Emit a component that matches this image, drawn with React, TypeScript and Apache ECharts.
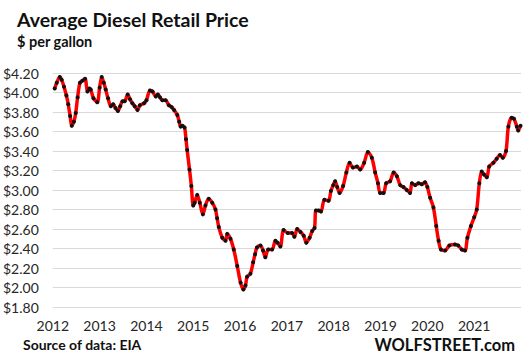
import React, { useEffect, useRef } from "react";
import * as echarts from "echarts";

// decimal-year positions of the readings
const dates: number[] = [
  2012.04, 2012.085, 2012.15, 2012.19, 2012.24, 2012.29, 2012.33, 2012.37, 2012.405, 2012.45,
  2012.49, 2012.53, 2012.58, 2012.63, 2012.69, 2012.74, 2012.78, 2012.81, 2012.87, 2012.95,
  2013.0, 2013.045, 2013.09, 2013.13, 2013.18, 2013.24, 2013.29, 2013.34, 2013.39, 2013.44,
  2013.49, 2013.535, 2013.6, 2013.65, 2013.7, 2013.75, 2013.81, 2013.86, 2013.95, 2014.0,
  2014.075, 2014.13, 2014.2, 2014.245, 2014.29, 2014.34, 2014.41, 2014.48, 2014.54, 2014.59,
  2014.66, 2014.7, 2014.73, 2014.765, 2014.815, 2014.845, 2014.87, 2014.92, 2014.96, 2015.0,
  2015.03, 2015.085, 2015.14, 2015.205, 2015.26, 2015.33, 2015.405, 2015.475, 2015.51, 2015.545,
  2015.62, 2015.69, 2015.725, 2015.795, 2015.865, 2015.94, 2016.01, 2016.07, 2016.115, 2016.15,
  2016.22, 2016.28, 2016.32, 2016.36, 2016.435, 2016.49, 2016.54, 2016.6, 2016.685, 2016.755,
  2016.8, 2016.86, 2016.93, 2017.02, 2017.11, 2017.16, 2017.22, 2017.29, 2017.36, 2017.415,
  2017.485, 2017.54, 2017.59, 2017.62, 2017.68, 2017.73, 2017.8, 2017.89, 2017.94, 2017.99,
  2018.03, 2018.075, 2018.125, 2018.2, 2018.27, 2018.34, 2018.41, 2018.495, 2018.565, 2018.65,
  2018.73, 2018.815, 2018.885, 2018.945, 2018.99, 2019.065, 2019.12, 2019.205, 2019.28, 2019.35,
  2019.42, 2019.49, 2019.56, 2019.63, 2019.67, 2019.74, 2019.81, 2019.88, 2019.95, 2020.0,
  2020.06, 2020.13, 2020.19, 2020.24, 2020.29, 2020.38, 2020.47, 2020.59, 2020.66, 2020.735,
  2020.805, 2020.855, 2020.93, 2021.0, 2021.055, 2021.11, 2021.16, 2021.21, 2021.27, 2021.32,
  2021.41, 2021.48, 2021.55, 2021.61, 2021.68, 2021.73, 2021.8, 2021.85, 2021.91, 2021.94,
  2021.99,
];

// $ per gallon
const prices: number[] = [
  4.04, 4.1, 4.16, 4.13, 4.06, 3.97, 3.88, 3.76, 3.66, 3.7,
  3.79, 3.95, 4.1, 4.12, 4.14, 4.01, 4.04, 4.03, 3.94, 3.9,
  4.05, 4.16, 4.1, 4.03, 3.94, 3.86, 3.88, 3.84, 3.81, 3.86,
  3.91, 3.91, 3.98, 3.93, 3.89, 3.86, 3.82, 3.87, 3.89, 3.92,
  4.02, 4.01, 3.96, 3.98, 3.95, 3.92, 3.92, 3.87, 3.85, 3.82,
  3.77, 3.7, 3.65, 3.66, 3.64, 3.52, 3.41, 3.21, 3.04, 2.84,
  2.87, 2.95, 2.87, 2.75, 2.84, 2.91, 2.87, 2.8, 2.71, 2.62,
  2.51, 2.48, 2.55, 2.5, 2.39, 2.22, 2.05, 1.98, 2.02, 2.11,
  2.14, 2.26, 2.34, 2.41, 2.43, 2.38, 2.31, 2.39, 2.39, 2.48,
  2.46, 2.42, 2.59, 2.56, 2.56, 2.52, 2.6, 2.57, 2.53, 2.46,
  2.51, 2.58, 2.61, 2.79, 2.79, 2.78, 2.9, 2.89, 2.99, 3.05,
  3.09, 3.03, 2.97, 3.04, 3.18, 3.28, 3.23, 3.24, 3.21, 3.28,
  3.39, 3.33, 3.18, 3.07, 2.97, 2.97, 3.07, 3.09, 3.18, 3.14,
  3.05, 3.03, 3.0, 2.97, 3.07, 3.05, 3.07, 3.06, 3.08, 3.03,
  2.92, 2.82, 2.63, 2.48, 2.39, 2.38, 2.43, 2.44, 2.43, 2.39,
  2.38, 2.51, 2.63, 2.72, 2.8, 3.07, 3.19, 3.16, 3.13, 3.24,
  3.28, 3.32, 3.36, 3.33, 3.4, 3.65, 3.74, 3.73, 3.65, 3.61,
  3.66,
];

const yearTicks: number[] = [2012, 2013, 2014, 2015, 2016, 2017, 2018, 2019, 2020, 2021];

const TITLE = "Average Diesel Retail Price";
const SUBTITLE = "$ per gallon";
const SOURCE = "Source of data: EIA";
const BRAND = "WOLFSTREET.com";

const FONT = "Lato, 'Noto Sans', sans-serif";

export default function App() {
  const ref = useRef<HTMLDivElement>(null);
  useEffect(() => {
    if (!ref.current) return;
    const chart = echarts.init(ref.current, undefined, { renderer: "svg" });
    const data = dates.map((d, i) => [d, prices[i]]);
    chart.setOption({
      animation: false,
      backgroundColor: "#ffffff",
      grid: { left: 52, right: 4, top: 73, bottom: 53, containLabel: false },
      xAxis: {
        type: "value",
        min: 2012,
        max: 2022,
        interval: 1,
        axisLine: { show: false },
        axisTick: { show: false },
        splitLine: { show: false },
        axisLabel: {
          margin: 11,
          fontFamily: FONT,
          fontSize: 14,
          lineHeight: 14,
          color: "#262626",
          formatter: (v: number) => (yearTicks.indexOf(v) >= 0 ? String(v) : ""),
        },
      },
      yAxis: {
        type: "value",
        min: 1.8,
        max: 4.2,
        interval: 0.2,
        axisLine: { show: false },
        axisTick: { show: false },
        splitLine: { lineStyle: { color: "#d9d9d9", width: 1 } },
        axisLabel: {
          margin: 14,
          fontFamily: FONT,
          fontSize: 14,
          color: "#262626",
          formatter: (v: number) => "$" + v.toFixed(2),
        },
      },
      series: [
        {
          type: "line",
          data,
          smooth: 0.3,
          showAllSymbol: true,
          symbol: "circle",
          symbolSize: 4,
          lineStyle: { color: "#ff0000", width: 3.5 },
          itemStyle: { color: "#111111" },
        },
      ],
      graphic: [
        {
          type: "text",
          left: 17,
          top: 9,
          style: { text: TITLE, fontFamily: FONT, fontWeight: "bold", fontSize: 19.5, fill: "#111" },
        },
        {
          type: "text",
          left: 17,
          top: 34,
          style: { text: SUBTITLE, fontFamily: FONT, fontWeight: "bold", fontSize: 14.5, fill: "#111" },
        },
        {
          type: "text",
          left: 23,
          top: 337,
          style: { text: SOURCE, fontFamily: FONT, fontWeight: "bold", fontSize: 14, lineHeight: 14, fill: "#111" },
        },
        {
          type: "text",
          right: 10,
          top: 336,
          style: { text: BRAND, fontFamily: FONT, fontWeight: "bold", fontSize: 16.5, lineHeight: 17, fill: "#111" },
        },
      ],
    });
    return () => chart.dispose();
  }, []);
  return <div ref={ref} style={{ width: 525, height: 360, position: "absolute", left: 0, top: 0 }} />;
}
